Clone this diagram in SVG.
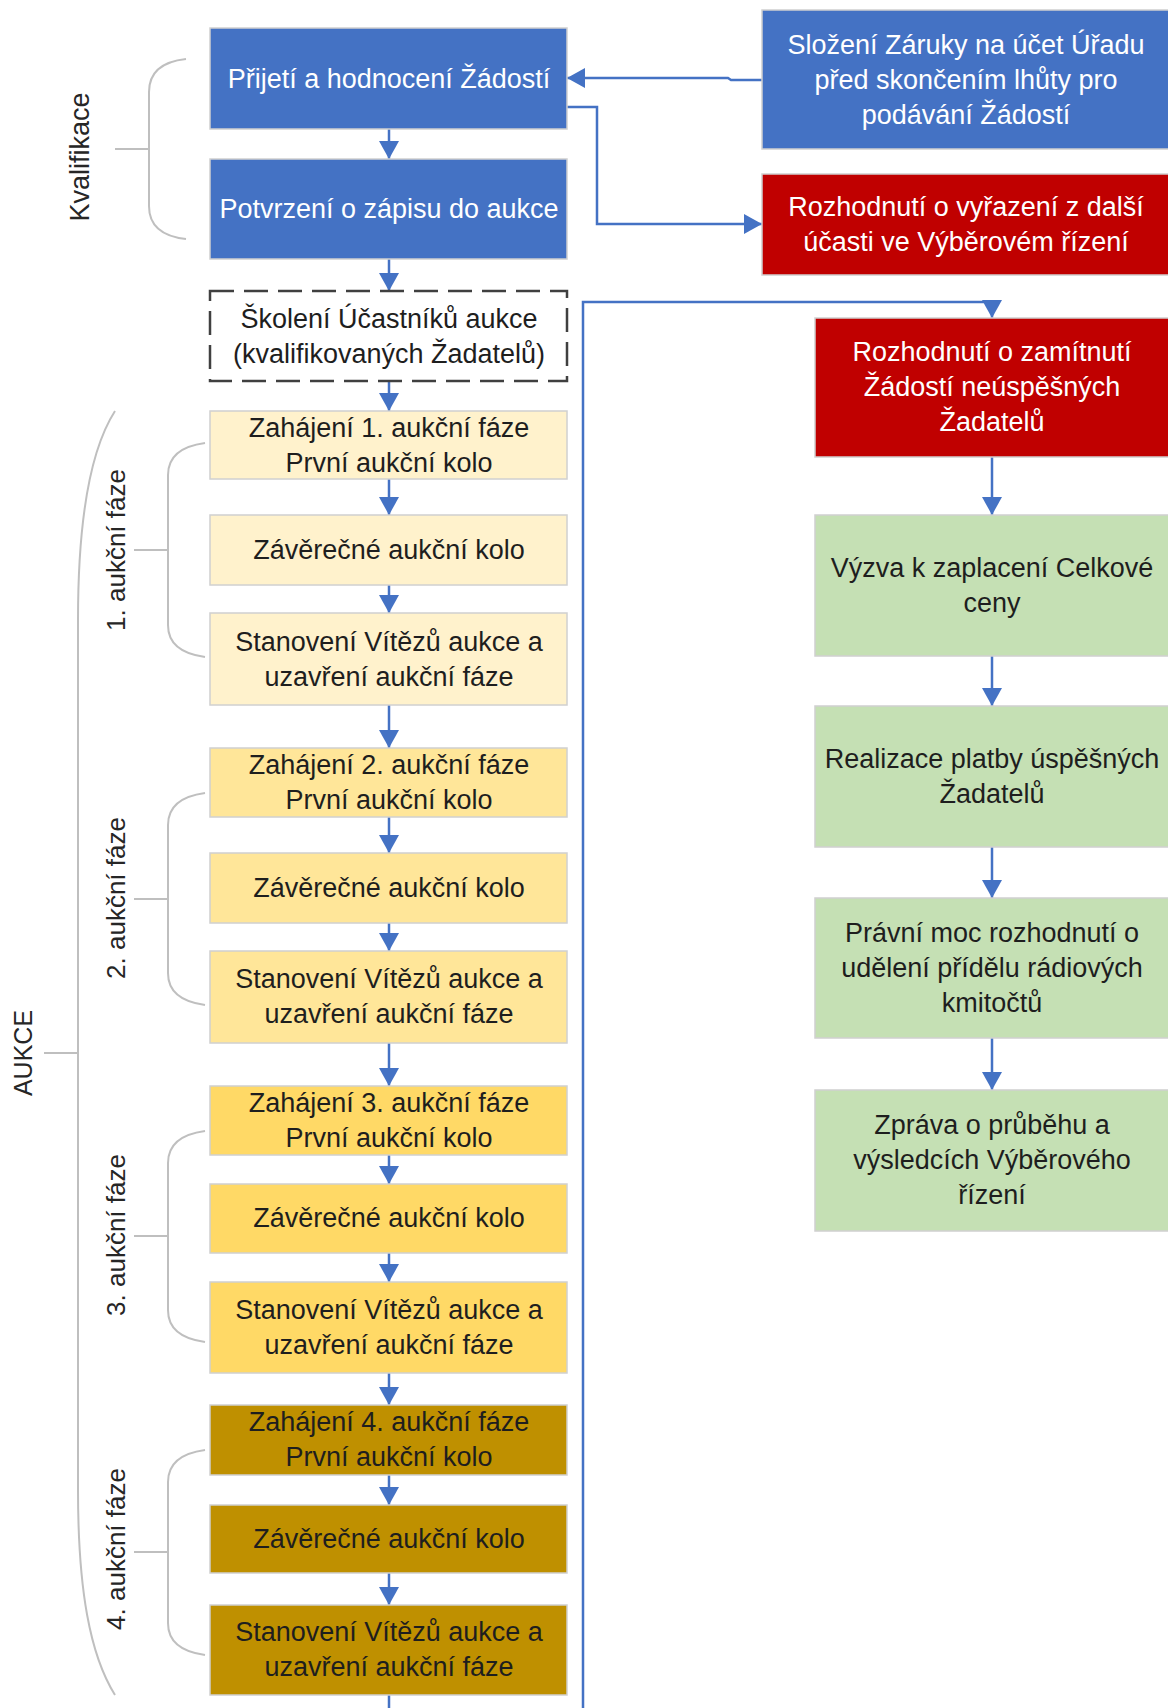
<svg xmlns="http://www.w3.org/2000/svg" width="1168" height="1708" viewBox="0 0 1168 1708">
<style>
.box{stroke:#D0D0D0;stroke-width:1.5}
.blue{fill:#4472C4}
.red{fill:#C00000}
.green{fill:#C5E0B4}
.y1{fill:#FFF2CC}
.y2{fill:#FFE699}
.y3{fill:#FFD966}
.y4{fill:#BF9000}
.dash{fill:#FFFFFF;stroke:#404040;stroke-width:2.5;stroke-dasharray:24 10}
text{font-family:"Liberation Sans",Arial,sans-serif;font-size:27px;text-anchor:middle}
.w{fill:#FFFFFF}
.k{fill:#1E1E1E}
.lbl{fill:#262626;font-size:26px}
.conn{fill:none;stroke:#4472C4;stroke-width:2.5}
.brace{fill:none;stroke:#BFBFBF;stroke-width:2}
</style>
<defs>
<marker id="ah" markerUnits="userSpaceOnUse" markerWidth="18" markerHeight="20" refX="18" refY="10" orient="auto">
<path d="M0,0 L18,10 L0,20 z" fill="#4472C4"/>
</marker>
</defs>

<g id="braces">
<path class="brace" d="M186,59 Q149,63 149,92 V206 Q149,235 186,239 M115,149 H149"/>
<path class="brace" d="M115,411 C90,450 78,520 78,620 V1490 C78,1590 90,1655 115,1695 M44,1053 H78"/>
<path class="brace" d="M205,443 Q168,448 168,475 V625 Q168,652 205,657 M134,550 H168"/>
<path class="brace" d="M205,793 Q168,798 168,825 V973 Q168,1000 205,1005 M134,899 H168"/>
<path class="brace" d="M205,1131 Q168,1136 168,1163 V1310 Q168,1337 205,1342 M134,1236 H168"/>
<path class="brace" d="M205,1450 Q168,1455 168,1482 V1623 Q168,1650 205,1655 M134,1552 H168"/>
</g>

<g id="labels">
<text class="lbl" style="font-size:27px" transform="translate(89,157) rotate(-90)">Kvalifikace</text>
<text class="lbl" style="font-size:25px" transform="translate(32,1053) rotate(-90)">AUKCE</text>
<text class="lbl" transform="translate(125,550) rotate(-90)">1. aukční fáze</text>
<text class="lbl" transform="translate(125,898) rotate(-90)">2. aukční fáze</text>
<text class="lbl" transform="translate(125,1235) rotate(-90)">3. aukční fáze</text>
<text class="lbl" transform="translate(125,1549) rotate(-90)">4. aukční fáze</text>
</g>

<g id="connectors">
<path class="conn" d="M389,129 V159" marker-end="url(#ah)"/>
<path class="conn" d="M389,259 V291" marker-end="url(#ah)"/>
<path class="conn" d="M389,381 V411" marker-end="url(#ah)"/>
<path class="conn" d="M389,479 V515" marker-end="url(#ah)"/>
<path class="conn" d="M389,585 V613" marker-end="url(#ah)"/>
<path class="conn" d="M389,705 V748" marker-end="url(#ah)"/>
<path class="conn" d="M389,817 V853" marker-end="url(#ah)"/>
<path class="conn" d="M389,923 V951" marker-end="url(#ah)"/>
<path class="conn" d="M389,1043 V1086" marker-end="url(#ah)"/>
<path class="conn" d="M389,1155 V1184" marker-end="url(#ah)"/>
<path class="conn" d="M389,1253 V1282" marker-end="url(#ah)"/>
<path class="conn" d="M389,1373 V1405" marker-end="url(#ah)"/>
<path class="conn" d="M389,1475 V1505" marker-end="url(#ah)"/>
<path class="conn" d="M389,1573 V1605" marker-end="url(#ah)"/>
<path class="conn" d="M389,1695 V1710"/>
<path class="conn" d="M583,1710 V302 H992 V318" marker-end="url(#ah)"/>
<path class="conn" d="M762,80 H731 L728,78 H567" marker-end="url(#ah)"/>
<path class="conn" d="M567,107 H597 V224 H762" marker-end="url(#ah)"/>
<path class="conn" d="M992,457 V515" marker-end="url(#ah)"/>
<path class="conn" d="M992,656 V706" marker-end="url(#ah)"/>
<path class="conn" d="M992,847 V898" marker-end="url(#ah)"/>
<path class="conn" d="M992,1038 V1090" marker-end="url(#ah)"/>
</g>

<g id="n-prijeti"><rect class="box blue" x="210" y="28" width="357" height="101"/><text class="w" x="389" y="88">Přijetí a hodnocení Žádostí</text></g>
<g id="n-potvrzeni"><rect class="box blue" x="210" y="159" width="357" height="100"/><text class="w" x="389" y="218">Potvrzení o zápisu do aukce</text></g>
<g id="n-skoleni"><rect class="dash" x="210" y="291" width="357" height="90"/><text class="k" x="389" y="328">Školení Účastníků aukce</text><text class="k" x="389" y="363">(kvalifikovaných Žadatelů)</text></g>

<g id="n-f1-zahajeni"><rect class="box y1" x="210" y="411" width="357" height="68"/><text class="k" x="389" y="437">Zahájení 1. aukční fáze</text><text class="k" x="389" y="472">První aukční kolo</text></g>
<g id="n-f1-zaverecne"><rect class="box y1" x="210" y="515" width="357" height="70"/><text class="k" x="389" y="559">Závěrečné aukční kolo</text></g>
<g id="n-f1-stanoveni"><rect class="box y1" x="210" y="613" width="357" height="92"/><text class="k" x="389" y="651">Stanovení Vítězů aukce a</text><text class="k" x="389" y="686">uzavření aukční fáze</text></g>

<g id="n-f2-zahajeni"><rect class="box y2" x="210" y="748" width="357" height="69"/><text class="k" x="389" y="774">Zahájení 2. aukční fáze</text><text class="k" x="389" y="809">První aukční kolo</text></g>
<g id="n-f2-zaverecne"><rect class="box y2" x="210" y="853" width="357" height="70"/><text class="k" x="389" y="897">Závěrečné aukční kolo</text></g>
<g id="n-f2-stanoveni"><rect class="box y2" x="210" y="951" width="357" height="92"/><text class="k" x="389" y="988">Stanovení Vítězů aukce a</text><text class="k" x="389" y="1023">uzavření aukční fáze</text></g>

<g id="n-f3-zahajeni"><rect class="box y3" x="210" y="1086" width="357" height="69"/><text class="k" x="389" y="1112">Zahájení 3. aukční fáze</text><text class="k" x="389" y="1147">První aukční kolo</text></g>
<g id="n-f3-zaverecne"><rect class="box y3" x="210" y="1184" width="357" height="69"/><text class="k" x="389" y="1227">Závěrečné aukční kolo</text></g>
<g id="n-f3-stanoveni"><rect class="box y3" x="210" y="1282" width="357" height="91"/><text class="k" x="389" y="1319">Stanovení Vítězů aukce a</text><text class="k" x="389" y="1354">uzavření aukční fáze</text></g>

<g id="n-f4-zahajeni"><rect class="box y4" x="210" y="1405" width="357" height="70"/><text class="k" x="389" y="1431">Zahájení 4. aukční fáze</text><text class="k" x="389" y="1466">První aukční kolo</text></g>
<g id="n-f4-zaverecne"><rect class="box y4" x="210" y="1505" width="357" height="68"/><text class="k" x="389" y="1548">Závěrečné aukční kolo</text></g>
<g id="n-f4-stanoveni"><rect class="box y4" x="210" y="1605" width="357" height="90"/><text class="k" x="389" y="1641">Stanovení Vítězů aukce a</text><text class="k" x="389" y="1676">uzavření aukční fáze</text></g>

<g id="n-zaruka"><rect class="box blue" x="762" y="10" width="410" height="139"/><text class="w" x="966" y="54">Složení Záruky na účet Úřadu</text><text class="w" x="966" y="89">před skončením lhůty pro</text><text class="w" x="966" y="124">podávání Žádostí</text></g>
<g id="n-vyrazeni"><rect class="box red" x="762" y="174" width="410" height="101"/><text class="w" x="966" y="216">Rozhodnutí o vyřazení z další</text><text class="w" x="966" y="251">účasti ve Výběrovém řízení</text></g>
<g id="n-zamitnuti"><rect class="box red" x="815" y="318" width="357" height="139"/><text class="w" x="992" y="361">Rozhodnutí o zamítnutí</text><text class="w" x="992" y="396">Žádostí neúspěšných</text><text class="w" x="992" y="431">Žadatelů</text></g>

<g id="n-vyzva"><rect class="box green" x="815" y="515" width="357" height="141"/><text class="k" x="992" y="577">Výzva k zaplacení Celkové</text><text class="k" x="992" y="612">ceny</text></g>
<g id="n-platba"><rect class="box green" x="815" y="706" width="357" height="141"/><text class="k" x="992" y="768">Realizace platby úspěšných</text><text class="k" x="992" y="803">Žadatelů</text></g>
<g id="n-pravni-moc"><rect class="box green" x="815" y="898" width="357" height="140"/><text class="k" x="992" y="942">Právní moc rozhodnutí o</text><text class="k" x="992" y="977">udělení přídělu rádiových</text><text class="k" x="992" y="1012">kmitočtů</text></g>
<g id="n-zprava"><rect class="box green" x="815" y="1090" width="357" height="141"/><text class="k" x="992" y="1134">Zpráva o průběhu a</text><text class="k" x="992" y="1169">výsledcích Výběrového</text><text class="k" x="992" y="1204">řízení</text></g>
</svg>
